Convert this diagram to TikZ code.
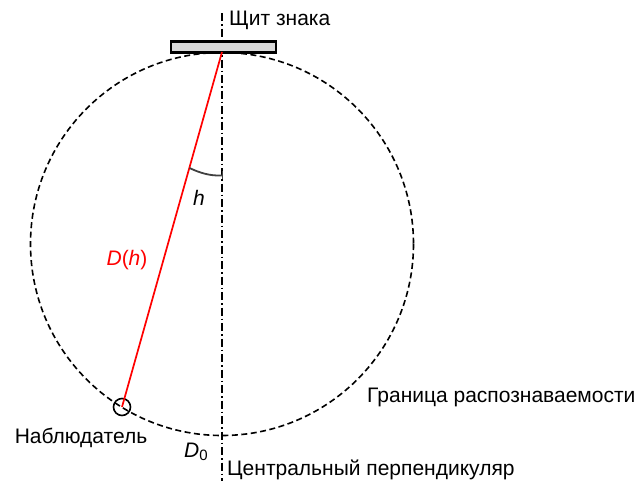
\documentclass[tikz,border=0pt]{standalone}
\usepackage{fontspec}
\setmainfont{Liberation Sans}
\begin{document}
\begin{tikzpicture}[x=1pt,y=-1pt,
  lbl/.style={font=\fontsize{21}{24}\selectfont, inner sep=0pt},
  bound/.style={draw=black, line width=1.6pt, dash pattern=on 6pt off 3.5pt},
  axis/.style={draw=black, line width=1.4pt, dash pattern=on 8pt off 3pt on 1.5pt off 3pt},
  ray/.style={draw=red, line width=1.7pt},
  board/.style={draw=black, fill=black!15, line width=2.8pt, minimum width=105pt, minimum height=11pt, inner sep=0pt},
  obs/.style={draw=black, circle, line width=1.6pt, minimum size=17pt, inner sep=0pt},
  anglearc/.style={draw=black!75, line width=1.8pt}
]
\useasboundingbox (0,0) rectangle (643,485);
\coordinate (ctr) at (222,244);
\coordinate (top) at (222,52);
\coordinate (axtop) at (222,13);
\coordinate (axbot) at (222,481);
% boundary circle
\draw[bound] (ctr) circle[radius=191.5];
% central perpendicular
\draw[axis] (axtop) -- (axbot);
% board
\node[board] (sign) at (223.5,47) {};
% observer
\node[obs] (obs) at (122,407) {};
% ray
\draw[ray] (top) -- (obs.center);
% angle arc
\draw[anglearc] (189.5,168) .. controls (200,173) and (210,176) .. (222,175.5);
\draw[anglearc, line width=1pt] (222,171) -- (222,179);
% labels
\node[lbl, anchor=west] (t1) at (229,20) {Щит знака};
\node[lbl] (th) at (199,198) {\itshape h};
\node[lbl, text=red] (tD) at (127,260) {\itshape D\upshape(\itshape h\upshape)};
\node[lbl] (tobs) at (81,438) {Наблюдатель};
\node[lbl] (tD0) at (196,452) {\itshape D\upshape\raisebox{-0.3ex}{\fontsize{15}{17}\selectfont 0}};
\node[lbl, anchor=west] (tcp) at (227,470) {Центральный перпендикуляр};
\node[lbl, anchor=west] (tgr) at (367,397) {Граница распознаваемости};
\end{tikzpicture}
\end{document}
